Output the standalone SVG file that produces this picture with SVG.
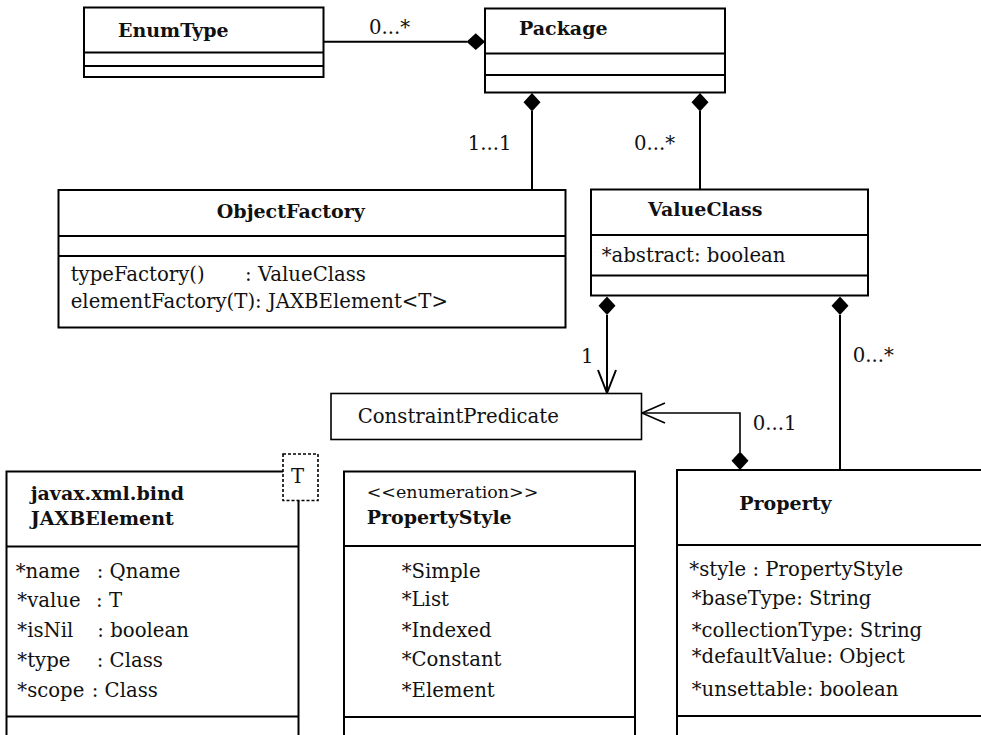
<svg xmlns="http://www.w3.org/2000/svg" width="981" height="735" viewBox="0 0 981 735">
<style>
.box{fill:#fff;stroke:#000;stroke-width:2}
.div{stroke:#000;stroke-width:2}
.ln{fill:none;stroke:#000;stroke-width:2}
.thin{fill:none;stroke:#000;stroke-width:1.6}
.dia{fill:#000;stroke:none}
text{font-family:"DejaVu Serif","Liberation Serif",serif;font-size:19.7px;fill:#111}
.b{font-weight:bold;font-size:19px}
.st{font-size:17.5px}
</style>
<rect width="981" height="735" fill="#fff"/>
<g id="connectors">
<line class="ln" x1="323.5" y1="41.7" x2="467" y2="41.7"/>
<polygon class="dia" points="466.5,41.7 475.75,33.3 485,41.7 475.75,50.1"/>
<line class="ln" x1="532" y1="111" x2="532" y2="190"/>
<polygon class="dia" points="532,93 540.5,102.3 532,111.6 523.5,102.3"/>
<line class="ln" x1="700" y1="111" x2="700" y2="189.5"/>
<polygon class="dia" points="700,93 708.5,102.3 700,111.6 691.5,102.3"/>
<line class="ln" x1="607" y1="315" x2="607" y2="392"/>
<polygon class="dia" points="607,296.5 615.5,305.8 607,315.1 598.5,305.8"/>
<polyline class="ln" points="598,370 607,393 616,370"/>
<line class="ln" x1="840" y1="315" x2="840" y2="470"/>
<polygon class="dia" points="840,296.5 848.5,305.8 840,315.1 831.5,305.8"/>
<polyline class="thin" points="740,452 740,413 643,413"/>
<polygon class="dia" points="740,451.5 748.5,460.8 740,470.1 731.5,460.8"/>
<polyline class="thin" points="665,403 642,413 665,423"/>
<text x="369" y="34">0...*</text>
<text x="467.7" y="150">1...1</text>
<text x="634" y="150">0...*</text>
<text x="581" y="362.5">1</text>
<text x="852.7" y="361.5">0...*</text>
<text x="752.7" y="430">0...1</text>
</g>
<g id="EnumType">
<rect class="box" x="84" y="7.5" width="239.5" height="69.5"/>
<line class="div" x1="84" y1="52.5" x2="323.5" y2="52.5"/>
<line class="div" x1="84" y1="66" x2="323.5" y2="66"/>
<text class="b" x="118" y="37">EnumType</text>
</g>
<g id="Package">
<rect class="box" x="485" y="8.5" width="240" height="84"/>
<line class="div" x1="485" y1="53.5" x2="725" y2="53.5"/>
<line class="div" x1="485" y1="75" x2="725" y2="75"/>
<text class="b" x="519" y="35">Package</text>
</g>
<g id="ObjectFactory">
<rect class="box" x="58.5" y="190" width="507" height="137.5"/>
<line class="div" x1="58.5" y1="236" x2="565.5" y2="236"/>
<line class="div" x1="58.5" y1="256" x2="565.5" y2="256"/>
<text class="b" x="290.8" y="218.3" text-anchor="middle">ObjectFactory</text>
<text x="70.7" y="281">typeFactory()<tspan x="245">: ValueClass</tspan></text>
<text x="70.7" y="308.3">elementFactory(T): JAXBElement&lt;T&gt;</text>
</g>
<g id="ValueClass">
<rect class="box" x="591" y="189.5" width="277" height="106"/>
<line class="div" x1="591" y1="235" x2="868" y2="235"/>
<line class="div" x1="591" y1="275.5" x2="868" y2="275.5"/>
<text class="b" x="648" y="216">ValueClass</text>
<text x="601.7" y="261.5">*abstract: boolean</text>
</g>
<g id="ConstraintPredicate">
<rect class="box" style="stroke-width:1.6" x="331" y="393.5" width="310.5" height="46"/>
<text x="357.7" y="423.3">ConstraintPredicate</text>
</g>
<g id="JAXBElement">
<rect class="box" x="6.5" y="471.5" width="292" height="300"/>
<line class="div" x1="6.5" y1="546.5" x2="298.5" y2="546.5"/>
<line class="div" x1="6.5" y1="716.5" x2="298.5" y2="716.5"/>
<rect x="283" y="454" width="35" height="46.5" fill="#fff" stroke="#000" stroke-width="1.6" stroke-dasharray="3,2"/>
<text x="291" y="483">T</text>
<text class="b" x="30.7" y="500">javax.xml.bind</text>
<text class="b" x="30.7" y="525">JAXBElement</text>
<text x="15.7" y="577.7">*name<tspan x="96.7">: Qname</tspan></text>
<text x="17.3" y="606.7">*value<tspan x="96">: T</tspan></text>
<text x="17.3" y="637.3">*isNil<tspan x="97.3">: boolean</tspan></text>
<text x="17.3" y="666.7">*type<tspan x="96.7">: Class</tspan></text>
<text x="17.3" y="697.3">*scope<tspan x="91.7">: Class</tspan></text>
</g>
<g id="PropertyStyle">
<rect class="box" x="344" y="471.5" width="291" height="300"/>
<line class="div" x1="344" y1="546" x2="635" y2="546"/>
<line class="div" x1="344" y1="717" x2="635" y2="717"/>
<text class="st" x="366.7" y="498.3">&lt;&lt;enumeration&gt;&gt;</text>
<text class="b" x="366.7" y="524">PropertyStyle</text>
<text x="401.7" y="578.3">*Simple</text>
<text x="401.7" y="606">*List</text>
<text x="401.7" y="636.7">*Indexed</text>
<text x="401.7" y="666">*Constant</text>
<text x="401.7" y="696.7">*Element</text>
</g>
<g id="Property">
<rect class="box" x="677" y="470" width="320" height="300"/>
<line class="div" x1="677" y1="545" x2="997" y2="545"/>
<line class="div" x1="677" y1="716" x2="997" y2="716"/>
<text class="b" x="739.3" y="510">Property</text>
<text x="689.3" y="576">*style : PropertyStyle</text>
<text x="691.7" y="605">*baseType: String</text>
<text x="691.7" y="636.7">*collectionType: String</text>
<text x="691.7" y="663.3">*defaultValue: Object</text>
<text x="691.7" y="696">*unsettable: boolean</text>
</g>
</svg>
